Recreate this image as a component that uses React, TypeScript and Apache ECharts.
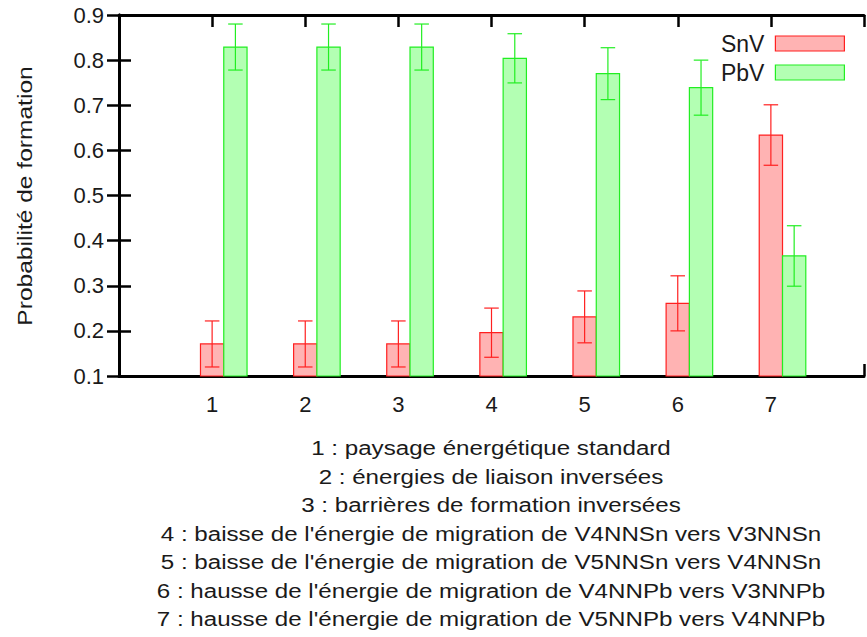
import React, { useEffect, useRef } from "react";
import * as echarts from "echarts";

const categories = [1, 2, 3, 4, 5, 6, 7];
const snvValues = [0.171, 0.171, 0.171, 0.196, 0.231, 0.261, 0.634];
const snvErrors = [0.051, 0.051, 0.051, 0.0545, 0.0575, 0.061, 0.067];
const pbvValues = [0.829, 0.829, 0.829, 0.804, 0.77, 0.739, 0.366];
const pbvErrors = [0.051, 0.051, 0.051, 0.0545, 0.0575, 0.061, 0.067];
const yTicks = [0.1, 0.2, 0.3, 0.4, 0.5, 0.6, 0.7, 0.8, 0.9];
const yTitle = "Probabilité de formation";
const captionLines = [
  "1 : paysage énergétique standard",
  "2 : énergies de liaison inversées",
  "3 : barrières de formation inversées",
  "4 : baisse de l'énergie de migration de V4NNSn vers V3NNSn",
  "5 : baisse de l'énergie de migration de V5NNSn vers V4NNSn",
  "6 : hausse de l'énergie de migration de V4NNPb vers V3NNPb",
  "7 : hausse de l'énergie de migration de V5NNPb vers V4NNPb",
];

const FONT = "'Liberation Sans', Arial, sans-serif";
const TEXT = "#1a1a1a";
const BAR_W = 0.25;
const CAP = 0.078;
const Y_MIN = 0.1;

function makeRender(offset: number, fill: string, stroke: string) {
  return (params: any, api: any) => {
    const x = api.value(0) + offset;
    const v = api.value(1);
    const e = api.value(2);
    const tl = api.coord([x - BAR_W / 2, v]);
    const br = api.coord([x + BAR_W / 2, Y_MIN]);
    const top = api.coord([x, v + e]);
    const bot = api.coord([x, v - e]);
    const capL = api.coord([x - CAP, v])[0];
    const capR = api.coord([x + CAP, v])[0];
    return {
      type: "group",
      children: [
        {
          type: "rect",
          shape: { x: tl[0], y: tl[1], width: br[0] - tl[0], height: br[1] - tl[1] },
          style: { fill, stroke, lineWidth: 1.2 },
        },
        {
          type: "line",
          shape: { x1: top[0], y1: top[1], x2: bot[0], y2: bot[1] },
          style: { stroke, lineWidth: 1.2 },
        },
        {
          type: "line",
          shape: { x1: capL, y1: top[1], x2: capR, y2: top[1] },
          style: { stroke, lineWidth: 1.2 },
        },
        {
          type: "line",
          shape: { x1: capL, y1: bot[1], x2: capR, y2: bot[1] },
          style: { stroke, lineWidth: 1.2 },
        },
      ],
    };
  };
}

export default function App() {
  const ref = useRef<HTMLDivElement>(null);
  useEffect(() => {
    if (!ref.current) return;
    const chart = echarts.init(ref.current, null, { renderer: "svg" });
    const axisLine = { show: true, lineStyle: { color: "#000", width: 3 } };
    const tick = { show: true, inside: true, length: 12, lineStyle: { color: "#000", width: 2.5 } };
    const xLabel = (v: number) => (categories.indexOf(v) >= 0 ? String(v) : "");
    const redFill = "#ffb3b3";
    const redStroke = "#ff2020";
    const greenFill = "#b3ffb3";
    const greenStroke = "#22ee22";
    chart.setOption({
      animation: false,
      backgroundColor: "#fff",
      textStyle: { fontFamily: FONT },
      grid: { left: 119, top: 15, width: 752, height: 361, containLabel: false },
      xAxis: [
        {
          type: "value",
          min: 0,
          max: 8,
          interval: 1,
          position: "bottom",
          axisLine,
          axisTick: tick,
          splitLine: { show: false },
          axisLabel: { formatter: xLabel, fontSize: 22, color: TEXT, margin: 17, fontFamily: FONT },
        },
        {
          type: "value",
          min: 0,
          max: 8,
          interval: 1,
          position: "top",
          axisLine,
          axisTick: tick,
          splitLine: { show: false },
          axisLabel: { show: false },
        },
      ],
      yAxis: [
        {
          type: "value",
          min: yTicks[0],
          max: yTicks[yTicks.length - 1],
          interval: 0.1,
          position: "left",
          axisLine,
          axisTick: tick,
          splitLine: { show: false },
          axisLabel: {
            formatter: (v: number) => v.toFixed(1),
            fontSize: 22,
            color: TEXT,
            margin: 15,
            fontFamily: FONT,
          },
        },
        {
          type: "value",
          min: yTicks[0],
          max: yTicks[yTicks.length - 1],
          interval: 0.1,
          position: "right",
          axisLine,
          axisTick: tick,
          splitLine: { show: false },
          axisLabel: { show: false },
        },
      ],
      legend: {
        orient: "vertical",
        right: 22,
        top: 32,
        padding: 0,
        align: "right",
        itemWidth: 69,
        itemHeight: 15,
        itemGap: 6,
        icon: "rect",
        textStyle: { fontSize: 23, color: TEXT, fontFamily: FONT, padding: [0, 6, 0, 0] },
        data: [
          { name: "SnV", itemStyle: { color: redFill, borderColor: redStroke, borderWidth: 1.2 } },
          { name: "PbV", itemStyle: { color: greenFill, borderColor: greenStroke, borderWidth: 1.2 } },
        ],
      },
      series: [
        {
          name: "SnV",
          type: "custom",
          xAxisIndex: 0,
          yAxisIndex: 0,
          itemStyle: { color: redFill, borderColor: redStroke },
          renderItem: makeRender(0, redFill, redStroke),
          data: categories.map((c, i) => [c, snvValues[i], snvErrors[i]]),
          encode: { x: 0, y: 1 },
        },
        {
          name: "PbV",
          type: "custom",
          xAxisIndex: 0,
          yAxisIndex: 0,
          itemStyle: { color: greenFill, borderColor: greenStroke },
          renderItem: makeRender(BAR_W, greenFill, greenStroke),
          data: categories.map((c, i) => [c, pbvValues[i], pbvErrors[i]]),
          encode: { x: 0, y: 1 },
        },
      ],
      graphic: [
        {
          type: "text",
          x: 25,
          y: 196,
          rotation: Math.PI / 2,
          scaleX: 1.17,
          style: {
            text: yTitle,
            fontSize: 21,
            fill: TEXT,
            fontFamily: FONT,
            align: "center",
            verticalAlign: "middle",
          },
        },
        {
          type: "text",
          x: 491,
          y: 434,
          scaleX: 1.15,
          style: {
            text: captionLines.join("\n"),
            fontSize: 21,
            lineHeight: 28.5,
            fill: TEXT,
            fontFamily: FONT,
            align: "center",
            verticalAlign: "top",
          },
        },
      ],
    });
    return () => chart.dispose();
  }, []);
  return (
    <div
      ref={ref}
      style={{ position: "fixed", left: 0, top: 0, width: 867, height: 637, background: "#fff" }}
    />
  );
}
